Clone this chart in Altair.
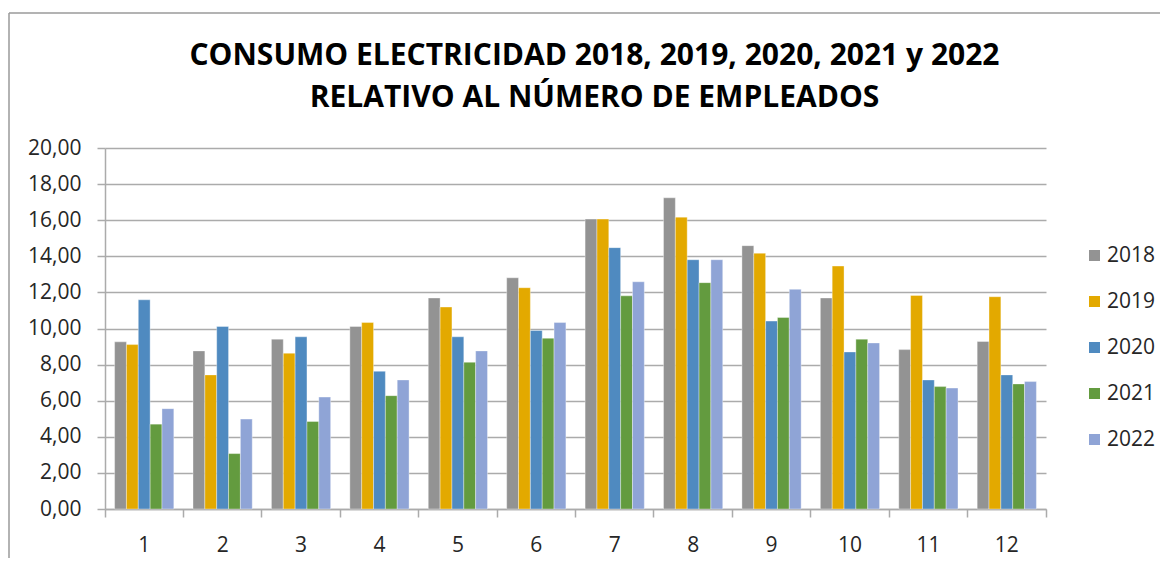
import altair as alt
import pandas as pd

months = ["1", "2", "3", "4", "5", "6", "7", "8", "9", "10", "11", "12"]
years = ["2018", "2019", "2020", "2021", "2022"]
v2018 = [9.26, 8.76, 9.41, 10.11, 11.69, 12.81, 16.06, 17.24, 14.59, 11.69, 8.83, 9.28]
v2019 = [9.11, 7.43, 8.63, 10.33, 11.19, 12.26, 16.06, 16.17, 14.17, 13.46, 11.83, 11.76]
v2020 = [11.59, 10.11, 9.54, 7.63, 9.54, 9.89, 14.48, 13.81, 10.41, 8.70, 7.15, 7.43]
v2021 = [4.70, 3.07, 4.85, 6.28, 8.13, 9.46, 11.81, 12.54, 10.61, 9.41, 6.78, 6.93]
v2022 = [5.56, 4.98, 6.20, 7.15, 8.76, 10.33, 12.59, 13.81, 12.17, 9.20, 6.70, 7.06]
y_ticks = [0, 2, 4, 6, 8, 10, 12, 14, 16, 18, 20]
colors = ["#939393", "#E3A900", "#4F8AC0", "#639B3F", "#8FA4D6"]
title_lines = ["CONSUMO ELECTRICIDAD 2018, 2019, 2020, 2021 y 2022",
               "RELATIVO AL NÚMERO DE EMPLEADOS"]

series = {"2018": v2018, "2019": v2019, "2020": v2020, "2021": v2021, "2022": v2022}
rows = []
for yr in years:
    for m, v in zip(months, series[yr]):
        rows.append({"mes": m, "anio": yr, "valor": v})
df = pd.DataFrame(rows)

FONT = "Open Sans"
GRID = "#ABABAB"

bars = alt.Chart(df).mark_bar(stroke="white", strokeWidth=0.6, strokeOpacity=0.6).encode(
    x=alt.X("mes:N", sort=months,
            scale=alt.Scale(paddingInner=0, paddingOuter=0),
            axis=alt.Axis(title=None, labelAngle=0, bandPosition=1, tickExtra=True,
                          tickSize=8, tickColor=GRID, tickWidth=1.5,
                          domainColor=GRID, domainWidth=1.5,
                          labelFont=FONT, labelFontSize=21, labelColor="#262626",
                          labelPadding=17, labelBaseline="top", grid=False)),
    xOffset=alt.XOffset("anio:N", sort=years,
                        scale=alt.Scale(paddingInner=0, paddingOuter=0.81)),
    y=alt.Y("valor:Q", scale=alt.Scale(domain=[0, 20]),
            axis=alt.Axis(title=None, values=y_ticks,
                          labelExpr="replace(format(datum.value, '.2f'), '.', ',')",
                          tickSize=8, tickColor=GRID, tickWidth=1.5,
                          domainColor=GRID, domainWidth=1.5,
                          gridColor=GRID, gridWidth=1.5,
                          labelFont=FONT, labelFontSize=21, labelColor="#262626",
                          labelPadding=16)),
    color=alt.Color("anio:N", sort=years,
                    scale=alt.Scale(domain=years, range=colors),
                    legend=alt.Legend(title=None, orient="none", legendX=979, legendY=97,
                                      symbolType="square", symbolSize=121,
                                      symbolStrokeWidth=0,
                                      labelFont=FONT, labelFontSize=21,
                                      labelColor="#262626",
                                      rowPadding=24, labelOffset=2, padding=0)),
)

frame_data = alt.Data(values=[{"k": 1}])
left_border = alt.Chart(frame_data).mark_rule(color="#9A9A9A", strokeWidth=1.5).encode(
    x=alt.value(-96), x2=alt.value(-96), y=alt.value(-135), y2=alt.value(420))
top_border = alt.Chart(frame_data).mark_rule(color="#9A9A9A", strokeWidth=1.5).encode(
    x=alt.value(-96), x2=alt.value(1060), y=alt.value(-135), y2=alt.value(-135))

chart = alt.layer(bars, left_border, top_border).properties(
    width=941, height=361,
    autosize=alt.AutoSizeParams(type="none"),
    padding={"left": 97, "top": 140, "right": 114, "bottom": 49},
    title=alt.TitleParams(text=title_lines, font=FONT, fontSize=30, fontWeight="bold",
                          color="black", anchor="middle", frame="group", dx=19, offset=0,
                          dy=125, lineHeight=42, baseline="alphabetic"),
).configure_view(stroke="transparent")

chart.save("out.html", embed_options={"renderer": "svg", "actions": False})
